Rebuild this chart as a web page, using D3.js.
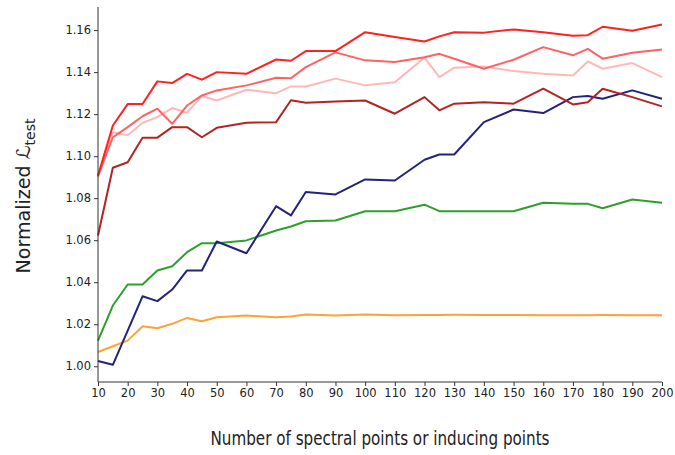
<!DOCTYPE html>
<html>
<head>
<meta charset="utf-8">
<script src="https://cdn.jsdelivr.net/npm/d3@7"></script>
<style>
  body { margin: 0; background: #fff; }
  svg { font-family: "DejaVu Sans", sans-serif; }
</style>
</head>
<body>
<svg id="chart"></svg>
<script>
const xs = [10,15,20,25,30,35,40,45,50,60,70,75,80,90,100,110,120,125,130,140,150,160,170,175,180,190,200];

const red      = [1.0908,1.1146,1.1248,1.1248,1.1356,1.1348,1.1392,1.1364,1.1400,1.1392,1.1460,1.1454,1.1500,1.1500,1.1590,1.1567,1.1546,1.1570,1.1590,1.1588,1.1603,1.1590,1.1573,1.1576,1.1616,1.1597,1.1627];
const salmon   = [1.0905,1.1090,1.1138,1.1190,1.1226,1.1154,1.1241,1.1289,1.1313,1.1337,1.1373,1.1371,1.1424,1.1494,1.1456,1.1448,1.1471,1.1487,1.1464,1.1416,1.1459,1.1519,1.1480,1.1511,1.1464,1.1492,1.1508];
const pink     = [1.0900,1.1114,1.1100,1.1159,1.1186,1.1229,1.1207,1.1286,1.1265,1.1316,1.1300,1.1332,1.1332,1.1369,1.1337,1.1352,1.1469,1.1376,1.1421,1.1427,1.1405,1.1392,1.1384,1.1451,1.1416,1.1443,1.1376];
const darkred  = [1.0622,1.0945,1.0971,1.1088,1.1088,1.1138,1.1138,1.1090,1.1135,1.1159,1.1162,1.1266,1.1254,1.1260,1.1265,1.1202,1.1281,1.1218,1.1250,1.1257,1.1250,1.1321,1.1246,1.1257,1.1321,1.1281,1.1237];
const navy     = [1.0025,1.0007,1.0170,1.0333,1.0310,1.0365,1.0456,1.0456,1.0594,1.0538,1.0762,1.0718,1.0829,1.0818,1.0889,1.0884,1.0983,1.1008,1.1008,1.1162,1.1222,1.1205,1.1281,1.1286,1.1273,1.1313,1.1273];
const green    = [1.0122,1.0289,1.0389,1.0389,1.0456,1.0476,1.0543,1.0586,1.0586,1.0599,1.0646,1.0665,1.0690,1.0694,1.0738,1.0738,1.0769,1.0738,1.0738,1.0738,1.0738,1.0778,1.0773,1.0773,1.0752,1.0794,1.0778];
const orange   = [1.0068,1.0095,1.0122,1.0190,1.0181,1.0202,1.0230,1.0214,1.0233,1.0241,1.0233,1.0237,1.0246,1.0241,1.0246,1.0243,1.0244,1.0244,1.0245,1.0244,1.0244,1.0243,1.0243,1.0243,1.0244,1.0243,1.0243];

const seriesNames  = ["red", "salmon", "pink", "darkred", "navy", "green", "orange"];
const seriesValues = [red, salmon, pink, darkred, navy, green, orange];
const seriesColors = ["#ff2020", "#ff6262", "#ffb8b8", "#b22424", "#23237a", "#2ca02c", "#ffa235"];
// drawing order: bottom to top
const drawOrder = ["orange", "green", "navy", "darkred", "pink", "salmon", "red"];

const xTicks = [10,20,30,40,50,60,70,80,90,100,110,120,130,140,150,160,170,180,190,200];
const yTicks = [1.00,1.02,1.04,1.06,1.08,1.10,1.12,1.14,1.16];

const width = 675, height = 455;
const margin = {top: 7, right: 13, bottom: 73, left: 98};
const w = width - margin.left - margin.right;
const h = height - margin.top - margin.bottom;

const svg = d3.select("#chart").attr("width", width).attr("height", height);
const g = svg.append("g").attr("transform", "translate(" + margin.left + "," + margin.top + ")");

const x = d3.scaleLinear().domain([10, 200]).range([0, w]);
const y = d3.scaleLinear().domain([0.9925, 1.1710]).range([h, 0]);

const line = d3.line()
  .x((d, i) => x(xs[i]))
  .y(d => y(d));

drawOrder.forEach(name => {
  const k = seriesNames.indexOf(name);
  g.append("path")
    .datum(seriesValues[k])
    .attr("fill", "none")
    .attr("stroke", seriesColors[k])
    .attr("stroke-width", 2)
    .attr("stroke-linejoin", "round")
    .attr("d", line);
});

const xAxis = d3.axisBottom(x).tickValues(xTicks).tickSize(4).tickPadding(3).tickFormat(d3.format("d"));
const yAxis = d3.axisLeft(y).tickValues(yTicks).tickSize(4).tickPadding(3).tickFormat(d3.format(".2f"));

const gx = g.append("g").attr("transform", "translate(0," + h + ")").call(xAxis);
const gy = g.append("g").call(yAxis);

[gx, gy].forEach(a => {
  a.select(".domain").attr("stroke", "#333").attr("stroke-width", 1);
  a.selectAll(".tick line").attr("stroke", "#333");
  a.selectAll(".tick text").attr("fill", "#222").style("font-size", "11.5px").style("font-family", "DejaVu Sans");
});
// matplotlib-style: no end caps on domain
gx.select(".domain").attr("d", "M0,0H" + w);
gy.select(".domain").attr("d", "M0," + h + "V0");

svg.append("text")
  .attr("x", margin.left + w / 2)
  .attr("y", 445)
  .attr("text-anchor", "middle")
  .attr("textLength", 339)
  .attr("lengthAdjust", "spacingAndGlyphs")
  .style("font-size", "19px")
  .attr("fill", "#222")
  .text("Number of spectral points or inducing points");

const yl = svg.append("text")
  .attr("transform", "translate(30,196) rotate(-90)")
  .attr("text-anchor", "middle")
  .attr("textLength", 155)
  .attr("lengthAdjust", "spacingAndGlyphs")
  .style("font-size", "19px")
  .attr("fill", "#222");
yl.append("tspan").text("Normalized ");
yl.append("tspan").style("font-style", "italic").text("ℒ");
yl.append("tspan").attr("dy", 5).style("font-size", "14px").text("test");
</script>
</body>
</html>
